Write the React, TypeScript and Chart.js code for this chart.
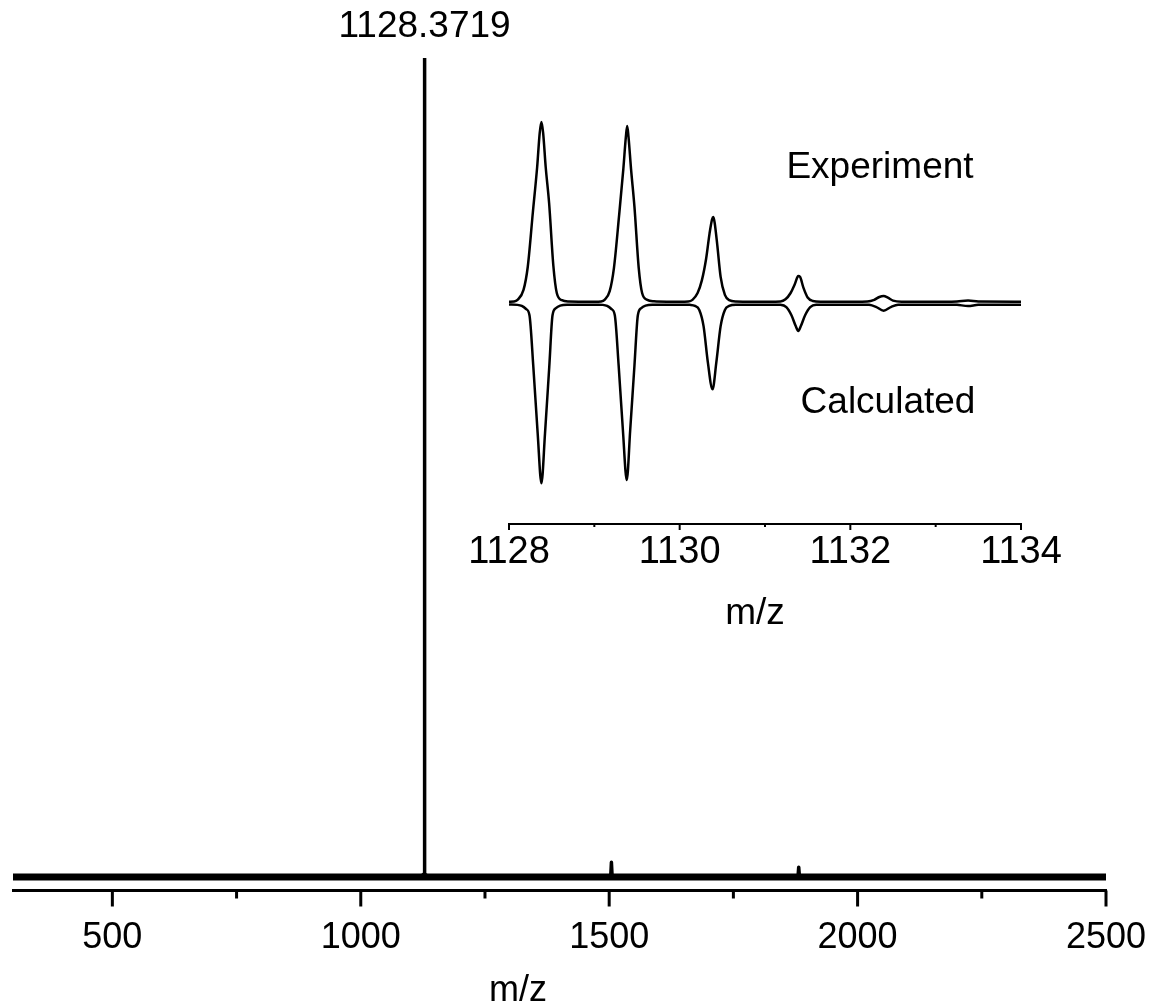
import React, { useEffect, useRef } from 'react';
import { Chart, registerables } from 'chart.js';

Chart.register(...registerables);

const FONT = '"Liberation Sans", Arial, Helvetica, sans-serif';

// ---------- main spectrum ----------
const mainBaseMz = [300, 2500];
const mainBaseInt = [0, 0];
const mainPeakMz = [1120, 1127.9, 1128.3, 1128.3719, 1128.45, 1128.9, 1136, 1503, 1504.5, 1506, 1880, 1881.5, 1883];
const mainPeakInt = [0, 0.4, 30, 100, 30, 0.4, 0, 0, 1.8, 0, 0, 1.2, 0];
const mainMajorTicks = [500, 1000, 1500, 2000, 2500];
const mainMinorTicks = [750, 1250, 1750, 2250];
const mainPeakLabel = '1128.3719';
const mainPeakLabelMz = 1128.3719;
const axisTitle = 'm/z';

// ---------- inset: isotope pattern ----------
const expMz = [
  1128.00, 1128.06, 1128.10, 1128.17, 1128.22, 1128.28, 1128.33, 1128.36, 1128.38, 1128.40, 1128.43, 1128.47, 1128.52, 1128.56, 1128.62, 1128.70, 1128.85, 1129.00,
  1129.08, 1129.12, 1129.18, 1129.23, 1129.29, 1129.34, 1129.37, 1129.385, 1129.40, 1129.43, 1129.47, 1129.52, 1129.56, 1129.62, 1129.70, 1129.85, 1130.00,
  1130.10, 1130.15, 1130.21, 1130.26, 1130.31, 1130.35, 1130.38, 1130.395, 1130.41, 1130.44, 1130.48, 1130.53, 1130.58, 1130.66, 1130.85, 1131.05,
  1131.18, 1131.24, 1131.30, 1131.35, 1131.39, 1131.41, 1131.45, 1131.50, 1131.56, 1131.65, 1132.05,
  1132.20, 1132.28, 1132.34, 1132.39, 1132.44, 1132.50, 1132.60, 1133.10,
  1133.25, 1133.38, 1133.50, 1134.00,
];
const expInt = [
  0.2, 0.3, 1.2, 6.7, 19.6, 50, 75, 94, 100, 94, 75, 55, 20, 5, 1, 0.3, 0.2, 0.1,
  0.3, 1.2, 6, 19, 48, 74, 92, 97.8, 92, 74, 53, 19, 5, 1.2, 0.4, 0.2, 0.2,
  0.3, 1.2, 5, 12, 24, 38, 46, 47.2, 44, 32, 14, 4, 1, 0.3, 0.2, 0.2,
  0.3, 1.5, 5, 10, 14.4, 14, 8, 2.5, 0.6, 0.2, 0.2,
  0.3, 1.2, 2.8, 3.3, 2.4, 0.8, 0.2, 0.2,
  0.3, 0.8, 0.3, 0.2,
];
const calcMz = [
  1128.00, 1128.10, 1128.15, 1128.20, 1128.24, 1128.285, 1128.336, 1128.38, 1128.422, 1128.472, 1128.51, 1128.55, 1128.60, 1128.68, 1129.05,
  1129.10, 1129.15, 1129.20, 1129.24, 1129.285, 1129.335, 1129.38, 1129.42, 1129.47, 1129.51, 1129.55, 1129.60, 1129.68, 1130.05,
  1130.12, 1130.18, 1130.23, 1130.28, 1130.33, 1130.385, 1130.43, 1130.48, 1130.53, 1130.58, 1130.66, 1131.10,
  1131.18, 1131.25, 1131.31, 1131.36, 1131.39, 1131.42, 1131.47, 1131.53, 1131.60, 1132.15,
  1132.22, 1132.30, 1132.39, 1132.48, 1132.56, 1133.15,
  1133.25, 1133.38, 1133.50, 1134.00,
];
const calcInt = [
  0, 0.2, 0.8, 2.5, 6, 34.5, 71.6, 99.3, 71.6, 34.5, 6, 2, 0.6, 0.1, 0.1,
  0.2, 0.8, 2.5, 6, 34, 70, 97.5, 70, 34, 6, 2, 0.6, 0.1, 0.1,
  0.2, 0.8, 3, 12, 32, 47.1, 32, 12, 3, 0.8, 0.1, 0.1,
  0.2, 1.5, 6, 12, 14.7, 12, 6, 1.5, 0.2, 0.1,
  0.2, 1.3, 3.4, 1.3, 0.2, 0.1,
  0.2, 0.8, 0.2, 0.1,
];
const insetMajorTicks = [1128, 1130, 1132, 1134];
const insetMinorTicks = [1129, 1131, 1133];
const expLabel = 'Experiment';
const calcLabel = 'Calculated';

const toPoints = (xs: number[], ys: number[]) => xs.map((x, i) => ({ x, y: ys[i] }));

const W = 1153;
const H = 1007;
const INSET_LEFT = 440;
const INSET_TOP = 90;
const INSET_W = 660;
const INSET_H = 560;

function drawTicks(chart: any, majors: number[], minors: number[], majorLen: number, minorLen: number, lw: number) {
  const ctx = chart.ctx;
  const xs = chart.scales.x;
  const y0 = chart.chartArea.bottom;
  ctx.save();
  ctx.strokeStyle = '#000';
  ctx.lineWidth = lw;
  ctx.lineCap = 'butt';
  const draw = (v: number, len: number) => {
    const px = xs.getPixelForValue(v);
    ctx.beginPath();
    ctx.moveTo(px, y0);
    ctx.lineTo(px, y0 + len);
    ctx.stroke();
  };
  majors.forEach((v) => draw(v, majorLen));
  minors.forEach((v) => draw(v, minorLen));
  ctx.restore();
}

export default function App() {
  const mainRef = useRef<HTMLCanvasElement>(null);
  const insetRef = useRef<HTMLCanvasElement>(null);

  useEffect(() => {
    const mainPlugin = {
      id: 'mainDecor',
      afterDraw(chart: any) {
        drawTicks(chart, mainMajorTicks, mainMinorTicks, 16, 8, 3);
        const ctx = chart.ctx;
        ctx.save();
        ctx.fillStyle = '#000';
        ctx.font = `37px ${FONT}`;
        ctx.textAlign = 'center';
        ctx.textBaseline = 'alphabetic';
        const px = chart.scales.x.getPixelForValue(mainPeakLabelMz);
        ctx.fillText(mainPeakLabel, px, chart.chartArea.top - 21);
        ctx.font = `36px ${FONT}`;
        ctx.fillText(axisTitle, 518, chart.chartArea.bottom + 110);
        ctx.restore();
      },
    };

    const mainChart = new Chart(mainRef.current as HTMLCanvasElement, {
      type: 'line',
      data: {
        datasets: [
          {
            data: toPoints(mainBaseMz, mainBaseInt),
            borderColor: '#000',
            borderWidth: 7,
            pointRadius: 0,
          },
          {
            data: toPoints(mainPeakMz, mainPeakInt),
            borderColor: '#000',
            borderWidth: 3.5,
            borderJoinStyle: 'round',
            pointRadius: 0,
          },
        ],
      },
      options: {
        responsive: false,
        animation: false,
        events: [],
        layout: { padding: { left: 13, right: 47, top: 58, bottom: 0 } },
        plugins: { legend: { display: false }, tooltip: { enabled: false } },
        scales: {
          x: {
            type: 'linear',
            min: 300,
            max: 2500,
            grid: { display: false, drawTicks: false },
            border: { display: true, color: '#000', width: 3 },
            afterBuildTicks: (scale: any) => {
              scale.ticks = mainMajorTicks.map((v) => ({ value: v }));
            },
            afterFit: (scale: any) => {
              scale.height = H - 890.5;
              scale.paddingLeft = 0;
              scale.paddingRight = 0;
            },
            ticks: {
              padding: 26,
              color: '#000',
              font: { family: FONT, size: 36 },
              maxRotation: 0,
              autoSkip: false,
              callback: (v: any) => String(v),
            },
          },
          y: {
            display: false,
            min: -1.65,
            max: 100,
          },
        },
      } as any,
      plugins: [mainPlugin],
    });

    const insetPlugin = {
      id: 'insetDecor',
      afterDraw(chart: any) {
        drawTicks(chart, insetMajorTicks, insetMinorTicks, 6, 3, 2);
        const ctx = chart.ctx;
        const ca = chart.chartArea;
        ctx.save();
        ctx.fillStyle = '#000';
        ctx.font = `37px ${FONT}`;
        ctx.textAlign = 'center';
        ctx.textBaseline = 'alphabetic';
        ctx.fillText(expLabel, ca.left + 371, ca.top + 68);
        ctx.fillText(calcLabel, ca.left + 379, ca.top + 303);
        ctx.fillText(axisTitle, ca.left + 246, ca.bottom + 100);
        ctx.restore();
      },
    };

    const insetChart = new Chart(insetRef.current as HTMLCanvasElement, {
      type: 'line',
      data: {
        datasets: [
          {
            data: toPoints(expMz, expInt),
            yAxisID: 'yExp',
            borderColor: '#000',
            borderWidth: 2.5,
            pointRadius: 0,
            cubicInterpolationMode: 'monotone',
          },
          {
            data: toPoints(calcMz, calcInt),
            yAxisID: 'yCalc',
            borderColor: '#000',
            borderWidth: 2.5,
            pointRadius: 0,
            cubicInterpolationMode: 'monotone',
          },
        ],
      },
      options: {
        responsive: false,
        animation: false,
        events: [],
        layout: { padding: { left: 69, right: 79, top: 20, bottom: 0 } },
        plugins: { legend: { display: false }, tooltip: { enabled: false } },
        scales: {
          x: {
            type: 'linear',
            min: 1128,
            max: 1134,
            grid: { display: false, drawTicks: false },
            border: { display: true, color: '#000', width: 2 },
            afterBuildTicks: (scale: any) => {
              scale.ticks = insetMajorTicks.map((v) => ({ value: v }));
            },
            afterFit: (scale: any) => {
              scale.height = INSET_H - 434;
              scale.paddingLeft = 0;
              scale.paddingRight = 0;
            },
            ticks: {
              padding: 6,
              color: '#000',
              font: { family: FONT, size: 38 },
              maxRotation: 0,
              autoSkip: false,
              callback: (v: any) => String(v),
            },
          },
          yExp: {
            display: false,
            min: -123.33,
            max: 106.67,
          },
          yCalc: {
            display: false,
            reverse: true,
            min: -108.06,
            max: 121.94,
          },
        },
      } as any,
      plugins: [insetPlugin],
    });

    return () => {
      mainChart.destroy();
      insetChart.destroy();
    };
  }, []);

  return (
    <div style={{ position: 'absolute', left: 0, top: 0, width: W, height: H, background: '#fff', overflow: 'hidden' }}>
      <canvas
        ref={mainRef}
        width={W}
        height={H}
        style={{ position: 'absolute', left: 0, top: 0, width: W, height: H }}
      />
      <canvas
        ref={insetRef}
        width={INSET_W}
        height={INSET_H}
        style={{ position: 'absolute', left: INSET_LEFT, top: INSET_TOP, width: INSET_W, height: INSET_H }}
      />
    </div>
  );
}
